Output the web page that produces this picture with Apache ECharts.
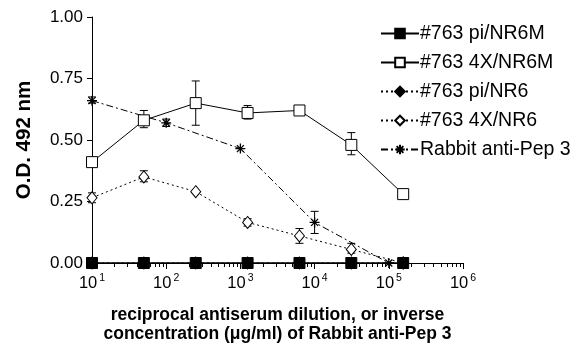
<!DOCTYPE html>
<html>
<head>
<meta charset="utf-8">
<script src="https://cdn.jsdelivr.net/npm/echarts@6/dist/echarts.min.js"></script>
<style>
html,body{margin:0;padding:0;background:#fff;}
#main{width:582px;height:349px;}
</style>
</head>
<body>
<div id="main"></div>
<script>
// 5-fold dilution series (antisera) and 10-fold series (rabbit)
var dil5 = [10, 50, 250, 1250, 6250, 31250, 156250];
var dil10 = [10, 100, 1000, 10000, 100000];

var piNR6M = [0, 0, 0, 0, 0, 0, 0];
var x4NR6M = [0.41, 0.58, 0.65, 0.61, 0.62, 0.48, 0.28];
var piNR6 = [0, 0, 0, 0, 0, 0, 0];
var x4NR6 = [0.265, 0.35, 0.29, 0.165, 0.11, 0.055, 0];
var rabbit = [0.66, 0.57, 0.465, 0.165, 0];

// error bars [x, low, high]
var errX4NR6M = [[50, 0.55, 0.62], [250, 0.56, 0.74], [1250, 0.585, 0.64], [31250, 0.44, 0.53]];
var errX4NR6 = [[10, 0.245, 0.285], [50, 0.33, 0.375], [1250, 0.15, 0.18], [6250, 0.08, 0.14], [31250, 0.04, 0.08]];
var errRabbit = [[10, 0.65, 0.675], [100, 0.555, 0.585], [10000, 0.12, 0.21]];

// minor log ticks 2..9 x 10^n
var minorTicks = [];
[10, 100, 1000, 10000, 100000].forEach(function(d){
	for(var k = 2; k <= 9; k++){ minorTicks.push([d * k, 0]); }
});

var names = ['#763 pi/NR6M', '#763 4X/NR6M', '#763 pi/NR6', '#763 4X/NR6', 'Rabbit anti-Pep 3'];
var font = 'Liberation Sans, Arial, sans-serif';
var asterisk = 'path://M5,0L5,10M0,5L10,5M1.5,1.5L8.5,8.5M1.5,8.5L8.5,1.5';

function pairs(xs, ys){
	var out = [];
	for(var i = 0; i < xs.length; i++){ out.push([xs[i], ys[i]]); }
	return out;
}

function errRender(params, api){
	var x = api.value(0);
	var lo = api.coord([x, api.value(1)]);
	var hi = api.coord([x, api.value(2)]);
	var st = {stroke:'#000', lineWidth:1};
	return {type:'group', children:[
		{type:'line', shape:{x1:lo[0], y1:lo[1], x2:hi[0], y2:hi[1]}, style:st},
		{type:'line', shape:{x1:hi[0]-4, y1:hi[1], x2:hi[0]+4, y2:hi[1]}, style:st},
		{type:'line', shape:{x1:lo[0]-4, y1:lo[1], x2:lo[0]+4, y2:lo[1]}, style:st}
	]};
}

//小刻度
function tickRender(params, api){
	var p = api.coord([api.value(0), 0]);
	var x = Math.round(p[0]) + 0.5;
	return {type:'line', shape:{x1:x, y1:p[1], x2:x, y2:p[1] + 4}, style:{stroke:'#000', lineWidth:1}};
}

function errSeries(d){
	return {type:'custom', renderItem:errRender, data:d, z:1, silent:true, encode:{x:0, y:[1,2]}};
}

var myChart = echarts.init(document.getElementById('main'));

var option = {
	animation:false,
	backgroundColor:'#fff',
	grid:{left:92, right:119, top:17, bottom:83},
	legend:{
		orient:'vertical', left:375, top:18,
		itemWidth:38, itemHeight:12, itemGap:8,
		data:names,
		textStyle:{fontFamily:font, fontSize:19.5, color:'#000', lineHeight:21, padding:[0,0,0,-4]}
	},
	xAxis:{
		type:'log', logBase:10, min:10, max:1000000,
		axisLine:{lineStyle:{color:'#000', width:1}},
		axisTick:{show:true, length:6, lineStyle:{color:'#000', width:1}},
		splitLine:{show:false},
		axisLabel:{
			margin:10, color:'#000', fontFamily:font, fontSize:16.5,
			formatter:function(v){
				var e = Math.round(Math.log(v)/Math.LN10);
				return '10{sup|' + e + '}';
			},
			rich:{sup:{fontSize:10.5, verticalAlign:'top', padding:[0,0,9,2], fontFamily:font, color:'#000'}}
		},
		name:'reciprocal antiserum dilution, or inverse\nconcentration (\u03bcg/ml) of Rabbit anti-Pep 3',
		nameLocation:'middle', nameGap:43,
		nameTextStyle:{fontFamily:font, fontSize:17.5, fontWeight:'bold', color:'#000', lineHeight:19}
	},
	yAxis:{
		type:'value', min:0, max:1, interval:0.25,
		axisLine:{show:true, lineStyle:{color:'#000', width:1}},
		axisTick:{show:true, length:5, lineStyle:{color:'#000'}},
		splitLine:{show:false},
		axisLabel:{margin:9, color:'#000', fontFamily:font, fontSize:17,
			formatter:function(v){ return v.toFixed(2); }},
		name:'O.D. 492 nm', nameLocation:'middle', nameGap:57,
		nameTextStyle:{fontFamily:font, fontSize:20.5, fontWeight:'bold', color:'#000'}
	},
	series:[
		{type:'custom', silent:true, z:2, clip:false, data:minorTicks, renderItem:tickRender},
		errSeries(errX4NR6M),
		errSeries(errX4NR6),
		errSeries(errRabbit),
		{
			name:names[4], type:'line', data:pairs(dil10, rabbit), z:3,
			symbol:asterisk, symbolSize:10,
			itemStyle:{color:'#000', borderColor:'#000', borderWidth:1.3},
			lineStyle:{color:'#000', width:1, type:[7,3,2,3]}
		},
		{
			name:names[3], type:'line', data:pairs(dil5, x4NR6), z:3,
			symbol:'diamond', symbolSize:[10,12],
			itemStyle:{color:'#fff', borderColor:'#000', borderWidth:1},
			lineStyle:{color:'#000', width:1, type:[2,3]}
		},
		{
			name:names[2], type:'line', data:pairs(dil5, piNR6), z:3,
			symbol:'diamond', symbolSize:[10,12],
			itemStyle:{color:'#000', borderColor:'#000', borderWidth:1},
			lineStyle:{color:'#000', width:1, type:[2,3]}
		},
		{
			name:names[1], type:'line', data:pairs(dil5, x4NR6M), z:4,
			symbol:'rect', symbolSize:11,
			itemStyle:{color:'#fff', borderColor:'#000', borderWidth:1},
			lineStyle:{color:'#000', width:1, type:'solid'}
		},
		{
			name:names[0], type:'line', data:pairs(dil5, piNR6M), z:5,
			symbol:'rect', symbolSize:11,
			itemStyle:{color:'#000', borderColor:'#000', borderWidth:1},
			lineStyle:{color:'#000', width:1.5, type:'solid'}
		}
	]
};

myChart.setOption(option);
</script>
</body>
</html>
